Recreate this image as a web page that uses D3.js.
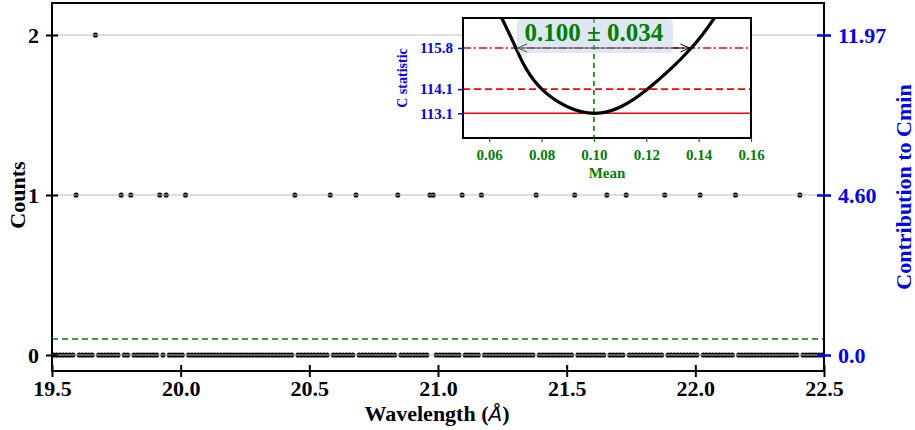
<!DOCTYPE html>
<html><head><meta charset="utf-8">
<script src="https://cdn.jsdelivr.net/npm/d3@7"></script>
<style>
body{margin:0;background:#fff}
svg{display:block;font-family:"Liberation Serif","Times New Roman",serif;font-weight:bold}
</style>
</head><body>
<svg id="c" width="915" height="430"></svg>
<script>
// ---- data ----
const binStart = 19.5, binWidth = 0.0125;
const counts = [
 0,0,0,0,0,0,0,1,0,0,0,0,0,2,0,0,0,0,0,0,
 0,1,0,0,1,0,0,0,0,0,0,0,0,1,0,1,0,0,0,0,
 0,1,0,0,0,0,0,0,0,0,0,0,0,0,0,0,0,0,0,0,
 0,0,0,0,0,0,0,0,0,0,0,0,0,0,0,1,0,0,0,0,
 0,0,0,0,0,0,1,0,0,0,0,0,0,0,1,0,0,0,0,0,
 0,0,0,0,0,0,0,1,0,0,0,0,0,0,0,0,0,1,1,0,
 0,0,0,0,0,0,0,1,0,0,0,0,0,1,0,0,0,0,0,0,
 0,0,0,0,0,0,0,0,0,0,1,0,0,0,0,0,0,0,0,0,
 0,0,1,0,0,0,0,0,0,0,0,0,1,0,0,0,0,0,1,0,
 0,0,0,0,0,0,0,0,0,0,1,0,0,0,0,0,0,0,0,0,
 0,1,0,0,0,0,0,0,0,0,0,0,1,0,0,0,0,0,0,0,
 0,0,0,0,0,0,0,0,0,0,0,0,1,0,0,0,0,0,0,0
];
const xTicks = [19.5, 20.0, 20.5, 21.0, 21.5, 22.0, 22.5];
const yTicks = [0, 1, 2];
const rightTickLabels = ["0.0", "4.60", "11.97"];
const meanLevel = 0.1;

const curveMean = [0.0648, 0.0702, 0.0801, 0.1003, 0.1204, 0.1372, 0.1460];
const curveC    = [117.04, 115.8, 114.1, 113.1, 114.1, 115.8, 117.04];
const cLevels = [113.1, 114.1, 115.8];
const cLevelDash = ["none", "7,4", "8,3,2,3"];
const insetXTicks = [0.06, 0.08, 0.10, 0.12, 0.14, 0.16];
const bestMean = 0.100, errMean = 0.034;
const arrowRange = [0.0710, 0.1365];

// ---- layout ----
const svg = d3.select("#c");
const L = 52, R = 824, T = 3, B = 371;
const x = d3.scaleLinear([19.5, 22.5], [L, R]);
const y = d3.scaleLinear([-0.1, 2.2], [B, T]);
const blue = "#0000ff", green = "#008000", red = "#ff0000";
const FS = 22;

// mean level
svg.append("line").attr("x1", L).attr("x2", R)
  .attr("y1", y(meanLevel)).attr("y2", y(meanLevel))
  .attr("stroke", green).attr("stroke-width", 1.6).attr("stroke-dasharray", "6,4");

// points
const pts = counts.map((c, i) => ({w: binStart + (i + 0.5) * binWidth, c}));
svg.append("g").selectAll("circle").data(pts).join("circle")
  .attr("cx", d => x(d.w)).attr("cy", d => y(d.c)).attr("r", 2.6).attr("fill", "#000");

// gridlines (drawn above the markers, as in the reference)
svg.append("g").selectAll("line").data(yTicks).join("line")
  .attr("x1", L).attr("x2", R).attr("y1", d => y(d)).attr("y2", d => y(d))
  .attr("stroke", "#bdbdbd").attr("stroke-width", 1.1);

// frame
svg.append("rect").attr("x", L).attr("y", T).attr("width", R - L).attr("height", B - T)
  .attr("fill", "none").attr("stroke", "#000").attr("stroke-width", 2);

// left axis
const gl = svg.append("g").attr("transform", `translate(${L},0)`)
  .call(d3.axisLeft(y).tickValues(yTicks).tickFormat(d3.format("d")).tickSize(6).tickPadding(7));
gl.select(".domain").remove();
gl.selectAll(".tick line").attr("x1", 6).attr("x2", -6).attr("stroke", "#000").attr("stroke-width", 2);
gl.selectAll(".tick text").attr("font-size", FS).attr("font-family", "Liberation Serif").attr("font-weight", "bold").attr("fill", "#000");

// bottom axis
const gb = svg.append("g").attr("transform", `translate(0,${B})`)
  .call(d3.axisBottom(x).tickValues(xTicks).tickFormat(d3.format(".1f")).tickSize(6).tickPadding(3));
gb.select(".domain").remove();
gb.selectAll(".tick line").attr("y1", -6).attr("y2", 6).attr("stroke", "#000").attr("stroke-width", 2);
gb.selectAll(".tick text").attr("font-size", FS).attr("font-family", "Liberation Serif").attr("font-weight", "bold").attr("fill", "#000");

// right axis
const gr = svg.append("g").attr("transform", `translate(${R},0)`)
  .call(d3.axisRight(y).tickValues(yTicks).tickFormat((d, i) => rightTickLabels[i]).tickSize(7).tickPadding(7));
gr.select(".domain").remove();
gr.selectAll(".tick line").attr("x1", -7).attr("x2", 7).attr("stroke", blue).attr("stroke-width", 2.5);
gr.selectAll(".tick text").attr("font-size", FS).attr("font-family", "Liberation Serif").attr("font-weight", "bold").attr("fill", blue);

// axis labels
svg.append("text").attr("transform", "translate(25,195) rotate(-90)").attr("text-anchor", "middle")
  .attr("font-size", FS).text("Counts");
const xl = svg.append("text").attr("x", 437).attr("y", 421).attr("text-anchor", "middle").attr("font-size", FS);
xl.append("tspan").text("Wavelength (");
xl.append("tspan").attr("font-style", "italic").attr("font-family", "DejaVu Sans").attr("font-weight", "normal").attr("font-size", 20).text("Å");
xl.append("tspan").text(")");
svg.append("text").attr("transform", "translate(911,187) rotate(-90)").attr("text-anchor", "middle")
  .attr("font-size", FS).attr("fill", blue).text("Contribution to Cmin");

// ---- inset ----
const iL = 463, iR = 751, iT = 18, iB = 138;
const ix = d3.scaleLinear([0.05, 0.16], [iL, iR]);
const iy = d3.scaleLinear([112.08, 117.04], [iB, iT]);
const ins = svg.append("g");
ins.append("rect").attr("x", iL).attr("y", iT).attr("width", iR - iL).attr("height", iB - iT).attr("fill", "#fff");
svg.append("defs").append("clipPath").attr("id", "ic").append("rect")
  .attr("x", iL).attr("y", iT).attr("width", iR - iL).attr("height", iB - iT);
const ic = ins.append("g").attr("clip-path", "url(#ic)");

ic.selectAll("line.lev").data(cLevels).join("line").attr("class", "lev")
  .attr("x1", iL).attr("x2", iR).attr("y1", d => iy(d)).attr("y2", d => iy(d))
  .attr("stroke", red).attr("stroke-width", 1.6).attr("stroke-dasharray", (d, i) => cLevelDash[i]);
ic.append("line").attr("x1", ix(bestMean)).attr("x2", ix(bestMean)).attr("y1", iT).attr("y2", iB)
  .attr("stroke", green).attr("stroke-width", 1.6).attr("stroke-dasharray", "5,4");
const cd = curveMean.map((m, i) => [m, curveC[i]]);
ic.append("path").attr("d", d3.line().x(d => ix(d[0])).y(d => iy(d[1])).curve(d3.curveNatural)(cd))
  .attr("fill", "none").attr("stroke", "#000").attr("stroke-width", 3.2);

// annotation
const ay = iy(cLevels[2]);
const ax1 = ix(arrowRange[0]), ax2 = ix(arrowRange[1]);
ins.append("line").attr("x1", ax1).attr("x2", ax2).attr("y1", ay).attr("y2", ay).attr("stroke", "#000").attr("stroke-width", 1);
ins.append("path").attr("d", `M${ax1 + 9},${ay - 4}L${ax1},${ay}L${ax1 + 9},${ay + 4}M${ax2 - 9},${ay - 4}L${ax2},${ay}L${ax2 - 9},${ay + 4}`)
  .attr("fill", "none").attr("stroke", "#000").attr("stroke-width", 1);
ins.append("rect").attr("x", 517).attr("y", 19).attr("width", 156).attr("height", 34).attr("rx", 4)
  .attr("fill", "rgb(176,196,222)").attr("fill-opacity", 0.4);
ins.append("text").attr("x", ix(bestMean)).attr("y", 41).attr("text-anchor", "middle")
  .attr("font-size", 25).attr("fill", green).text(`${bestMean.toFixed(3)} ± ${errMean.toFixed(3)}`);

ins.append("rect").attr("x", iL).attr("y", iT).attr("width", iR - iL).attr("height", iB - iT)
  .attr("fill", "none").attr("stroke", "#000").attr("stroke-width", 2);

// inset axes
const il = ins.append("g").attr("transform", `translate(${iL},0)`)
  .call(d3.axisLeft(iy).tickValues(cLevels).tickFormat(d3.format(".1f")).tickSize(5).tickPadding(5));
il.select(".domain").remove();
il.selectAll(".tick line").attr("stroke", blue).attr("stroke-width", 1.5);
il.selectAll(".tick text").attr("font-size", 15).attr("font-family", "Liberation Serif").attr("font-weight", "bold").attr("fill", blue);
const ib = ins.append("g").attr("transform", `translate(0,${iB})`)
  .call(d3.axisBottom(ix).tickValues(insetXTicks).tickFormat(d3.format(".2f")).tickSize(4).tickPadding(7));
ib.select(".domain").remove();
ib.selectAll(".tick line").attr("stroke", green).attr("stroke-width", 1.2);
ib.selectAll(".tick text").attr("font-size", 15).attr("font-family", "Liberation Serif").attr("font-weight", "bold").attr("fill", green);
ins.append("text").attr("x", 607).attr("y", 178).attr("text-anchor", "middle").attr("font-size", 15).attr("fill", green).text("Mean");
ins.append("text").attr("transform", "translate(407,78) rotate(-90)").attr("text-anchor", "middle")
  .attr("font-size", 14).attr("fill", blue).text("C statistic");
</script>
</body></html>
